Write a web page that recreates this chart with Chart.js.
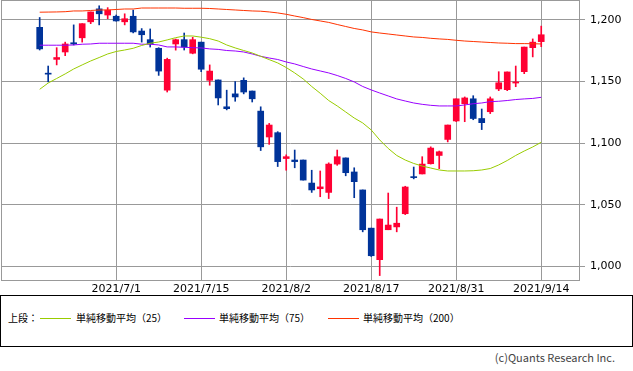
<!DOCTYPE html>
<html>
<head>
<meta charset="utf-8">
<title>Candlestick</title>
<style>
    body { margin: 0; background: #fff; }
    #wrap { position: relative; width: 633px; height: 371px; }
    #chart-box { position: absolute; left: 0; top: 0; width: 633px; height: 295px; }
    #legend { position: absolute; left: 0; top: 295px; width: 631px; height: 50px; border: 1px solid #000;
              font-family: "Noto Sans CJK JP", sans-serif; font-size: 10px; color: #000; }
    .lg-text { position: absolute; top: 15px; line-height: 14px; white-space: nowrap; }
    .lg-line { position: absolute; top: 22px; width: 31px; height: 1px; }
    #copy { position: absolute; right: 18px; top: 350px; font-family: "Noto Sans CJK JP", sans-serif;
            font-size: 11px; line-height: 15px; color: #444; }
</style>
</head>
<body>
<div id="wrap">
    <div id="chart-box"><canvas id="myChart"></canvas></div>
    <div id="legend">
        <span class="lg-text" style="left:7px;">上段：</span>
        <span class="lg-line" style="left:39px; background:#99CC00;"></span>
        <span class="lg-text" style="left:75px;">単純移動平均（25）</span>
        <span class="lg-line" style="left:183px; background:#9900FF;"></span>
        <span class="lg-text" style="left:218px;">単純移動平均（75）</span>
        <span class="lg-line" style="left:327px; background:#FF3300;"></span>
        <span class="lg-text" style="left:362px;">単純移動平均（200）</span>
    </div>
    <div id="copy">(c)Quants Research Inc.</div>
</div>

<script src="https://cdn.jsdelivr.net/npm/chart.js"></script>
<script>
    // trading days shown on the chart
    const dates = [
        '2021/6/18', '2021/6/21', '2021/6/22', '2021/6/23', '2021/6/24', '2021/6/25', '2021/6/28', '2021/6/29', '2021/6/30', '2021/7/1',
        '2021/7/2', '2021/7/5', '2021/7/6', '2021/7/7', '2021/7/8', '2021/7/9', '2021/7/12', '2021/7/13', '2021/7/14', '2021/7/15',
        '2021/7/16', '2021/7/19', '2021/7/20', '2021/7/21', '2021/7/26', '2021/7/27', '2021/7/28', '2021/7/29', '2021/7/30', '2021/8/2',
        '2021/8/3', '2021/8/4', '2021/8/5', '2021/8/6', '2021/8/10', '2021/8/11', '2021/8/12', '2021/8/13', '2021/8/16', '2021/8/17',
        '2021/8/18', '2021/8/19', '2021/8/20', '2021/8/23', '2021/8/24', '2021/8/25', '2021/8/26', '2021/8/27', '2021/8/30', '2021/8/31',
        '2021/9/1', '2021/9/2', '2021/9/3', '2021/9/6', '2021/9/7', '2021/9/8', '2021/9/9', '2021/9/10', '2021/9/13', '2021/9/14'
    ];

    const opens = [
        1194, 1156.5, 1168, 1174, 1181.5, 1185.5, 1198.5, 1209, 1204, 1203,
        1198.5, 1203, 1191, 1184, 1177, 1143, 1180.5, 1184, 1173, 1182,
        1151, 1151.3, 1129.5, 1140, 1151, 1142.3, 1126, 1105, 1108.5, 1087.5,
        1086.3, 1086.3, 1067.6, 1063, 1060, 1083, 1088, 1076.6, 1062, 1031,
        1005.4, 1029.7, 1032, 1042.7, 1072.5, 1075, 1083.3, 1090, 1103, 1118,
        1132, 1136, 1120, 1125.5, 1144, 1143.4, 1148.8, 1158, 1177.5, 1182.4
    ];
    const highs = [
        1202, 1162.6, 1177.5, 1182, 1196, 1197, 1206.5, 1211.5, 1210, 1204,
        1205, 1208, 1193, 1192.7, 1177.5, 1169, 1184.5, 1189.4, 1186, 1182,
        1163.5, 1151.3, 1143, 1150, 1153, 1142.3, 1129.5, 1116, 1109.3, 1090.5,
        1094.4, 1086.3, 1078, 1077.4, 1084, 1094.4, 1088, 1080, 1062, 1031,
        1038.4, 1059.5, 1048, 1065, 1080.6, 1089, 1097, 1093.6, 1114.7, 1136,
        1137.5, 1138.5, 1127.7, 1137.5, 1158, 1157.8, 1162.6, 1178, 1184.6, 1195
    ];
    const lows = [
        1175.6, 1149.7, 1163.5, 1171, 1179.7, 1182, 1197, 1196, 1201, 1199,
        1196, 1189.5, 1182, 1178, 1155, 1141.5, 1175.5, 1175.6, 1172.5, 1158,
        1147, 1131, 1127, 1134, 1140, 1133.4, 1094, 1099, 1081, 1078,
        1080, 1070, 1060, 1056.5, 1055, 1082, 1073.5, 1055.7, 1028, 1008,
        992.5, 1029.7, 1028, 1042, 1071, 1075, 1083, 1079.3, 1101, 1117.4,
        1117.4, 1119, 1111, 1124, 1142.6, 1142.6, 1145.8, 1156.4, 1170, 1178.3
    ];
    const closes = [
        1176.5, 1156, 1169.5, 1180.5, 1180.5, 1197, 1206.5, 1205, 1208, 1199.2,
        1201, 1190.3, 1188, 1180.5, 1158.5, 1168, 1184, 1178, 1184, 1160,
        1158.5, 1136.7, 1128, 1137.5, 1141.5, 1136, 1097, 1114.7, 1085, 1089,
        1085, 1070, 1062, 1064.5, 1083, 1089, 1076, 1068.7, 1029.7, 1008.6,
        1038.4, 1033.5, 1035, 1064.4, 1072, 1083, 1096, 1093, 1114.7, 1136,
        1136.7, 1120, 1116.6, 1136, 1149, 1157.8, 1149.7, 1178, 1182, 1188
    ];

    // moving averages
    const ma25 = [
        1143.7, 1148.8, 1152.5, 1156.2, 1160.2, 1163.5, 1166.7, 1169.5, 1172.4, 1174.4,
        1175.6, 1177, 1179.3, 1181.1, 1182.1, 1183.8, 1185.6, 1187, 1187, 1186,
        1184.8, 1182.9, 1179.7, 1177.3, 1175.2, 1173.2, 1170.5, 1167.8, 1165.1, 1161.4,
        1157, 1152.1, 1146, 1140.5, 1134.6, 1130.2, 1125.3, 1120.4, 1116.4, 1110.7,
        1102.6, 1095.7, 1090, 1086.3, 1083.5, 1081.4, 1079.8, 1078.2, 1077.4, 1077.4,
        1077.4, 1077.6, 1078.2, 1079.4, 1082.3, 1085.9, 1090, 1093.6, 1096.9, 1100.7
    ];
    const ma75 = [
        1179.5, 1179.5, 1179.5, 1179.5, 1179.7, 1180.3, 1180.5, 1181.1, 1181.1, 1181.1,
        1181.1, 1181.1, 1180.3, 1180.3, 1179.7, 1178.1, 1178.1, 1177.8, 1177.5, 1177.3,
        1176.5, 1176.1, 1175.2, 1174.8, 1174, 1172.4, 1170.5, 1169.1, 1167.9, 1165.9,
        1164.3, 1162.2, 1160.2, 1158.6, 1157, 1154.9, 1152.5, 1149.7, 1146, 1143.2,
        1140.7, 1138.3, 1135.9, 1134.2, 1132.6, 1131.5, 1130.7, 1130.2, 1130.2, 1130.2,
        1131, 1132, 1132.6, 1133.7, 1134, 1134.6, 1135.4, 1135.9, 1136.3, 1137.2
    ];
    const ma200 = [
        1206.3, 1206.4, 1206.5, 1206.7, 1207.3, 1207.3, 1207.7, 1208.1, 1208.1, 1208.5,
        1208.9, 1208.9, 1209.7, 1209.7, 1209.7, 1209.7, 1209.7, 1209.5, 1209.5, 1209.5,
        1209.3, 1208.9, 1208.5, 1208.1, 1207.7, 1207.3, 1207.1, 1206.5, 1205.7, 1204.6,
        1203.2, 1201.9, 1200.4, 1199.2, 1198, 1196.3, 1194.7, 1193.1, 1191.9, 1190.3,
        1189.4, 1188.6, 1187.8, 1187, 1186.2, 1185.8, 1185.1, 1184.6, 1184.2, 1183.5,
        1182.9, 1182.5, 1182.1, 1181.7, 1181.3, 1181.1, 1180.8, 1180.8, 1180.7, 1180.5
    ];

    const priceTicks = [1000, 1050, 1100, 1150, 1200];
    // a date label every 10 trading days, counting back from the last day
    const dateTicks = dates.map((d, i) => i).filter(i => (dates.length - 1 - i) % 10 === 0);

    const UP = '#FF0033';
    const DOWN = '#003399';
    const candleColor = ctx => closes[ctx.dataIndex] >= opens[ctx.dataIndex] ? UP : DOWN;

    // plot frame drawn on top of the grid, under the candles
    const framePlugin = {
        id: 'frame',
        beforeDatasetsDraw(chart) {
            const { ctx, chartArea } = chart;
            ctx.save();
            ctx.strokeStyle = '#999';
            ctx.lineWidth = 1;
            ctx.strokeRect(Math.round(chartArea.left) + 0.5, 0.5,
                Math.round(chartArea.right) - Math.round(chartArea.left) - 1, Math.round(chartArea.bottom));
            ctx.restore();
        }
    };

    const maLine = (values, color) => ({
        type: 'line',
        data: values.map((v, i) => ({ x: i, y: v })),
        borderColor: color,
        borderWidth: 1,
        pointRadius: 0,
        fill: false,
        tension: 0,
        order: 0
    });

    const ctx = document.getElementById('myChart').getContext('2d');
    const myChart = new Chart(ctx, {
        type: 'bar',
        data: {
            datasets: [
                maLine(ma25, '#99CC00'),
                maLine(ma75, '#9900FF'),
                maLine(ma200, '#FF3300'),
                {
                    // wicks
                    data: dates.map((d, i) => ({ x: i, y: [lows[i], highs[i]] })),
                    backgroundColor: candleColor,
                    barThickness: 1,
                    grouped: false,
                    borderWidth: 0,
                    order: 2
                },
                {
                    // bodies
                    data: dates.map((d, i) => ({ x: i, y: [opens[i], closes[i]] })),
                    backgroundColor: candleColor,
                    barThickness: 6,
                    minBarLength: 1,
                    grouped: false,
                    borderWidth: 0,
                    order: 1
                }
            ]
        },
        options: {
            responsive: true,
            maintainAspectRatio: false,
            animation: false,
            layout: { padding: { left: 1, top: 0, right: 0, bottom: 0 } },
            plugins: {
                legend: { display: false },
                tooltip: { enabled: false }
            },
            scales: {
                x: {
                    type: 'linear',
                    offset: false,
                    min: -4.55,
                    max: 63.56,
                    afterBuildTicks: axis => { axis.ticks = dateTicks.map(v => ({ value: v })); },
                    afterFit: s => { s.height = 15; s.paddingLeft = 0; s.paddingRight = 0; },
                    ticks: {
                        callback: v => dates[v],
                        autoSkip: false,
                        maxRotation: 0,
                        padding: 3,
                        color: '#000',
                        font: { family: 'DejaVu Sans', size: 11 }
                    },
                    grid: { color: '#999', drawTicks: false, offset: false },
                    border: { display: false }
                },
                y: {
                    position: 'right',
                    min: 988.9,
                    max: 1216.2,
                    afterBuildTicks: axis => { axis.ticks = priceTicks.map(v => ({ value: v })); },
                    afterFit: s => { s.width = 53; s.paddingTop = 0; s.paddingBottom = 0; },
                    ticks: {
                        callback: v => v.toLocaleString('en-US'),
                        padding: 5,
                        color: '#000',
                        font: { family: 'DejaVu Sans', size: 11 }
                    },
                    grid: { color: '#999', tickLength: 5 },
                    border: { display: false }
                }
            }
        },
        plugins: [framePlugin]
    });
</script>
</body>
</html>
